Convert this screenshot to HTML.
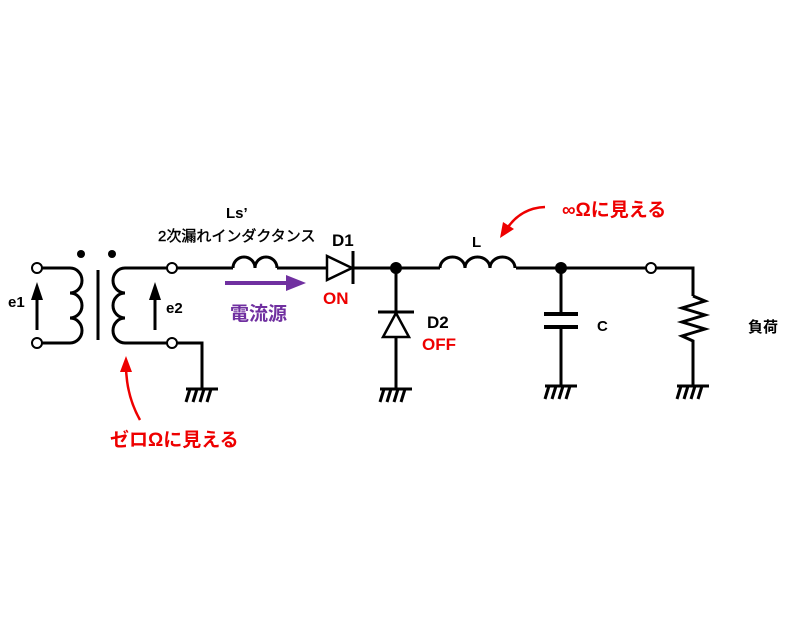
<!DOCTYPE html>
<html><head><style>body{margin:0;background:#fff}svg{display:block}</style></head><body>
<svg width="800" height="640" viewBox="0 0 800 640" xmlns="http://www.w3.org/2000/svg" font-family="Liberation Sans, Noto Sans CJK JP, sans-serif">
<g stroke="#000" stroke-width="3" fill="none">
<path d="M42,268 H70 A12,12.5 0 0 1 70,293 A12,12.5 0 0 1 70,318 A12,12.5 0 0 1 70,343 H42"/>
<line x1="98" y1="270" x2="98" y2="340"/>
<path d="M167,268 H125 A12,12.5 0 0 0 125,293 A12,12.5 0 0 0 125,318 A12,12.5 0 0 0 125,343 H167"/>
<path d="M177,343 H202 V388"/>
<path d="M177,268 H233 M277,268 H326 M354,268 H440 M516,268 H646 M656,268 H693 V296"/>
<path d="M233,268 A11,11 0 0 1 255,268 A11,11 0 0 1 277,268"/>
<path d="M440,268 A12.5,11 0 0 1 465,268 A12.5,11 0 0 1 490,268 A12.5,11 0 0 1 515,268"/>
<line x1="353" y1="251" x2="353" y2="284"/>
<line x1="396" y1="268" x2="396" y2="388"/>
<line x1="378" y1="312" x2="414" y2="312"/>
<line x1="561" y1="268" x2="561" y2="314"/>
<line x1="561" y1="327" x2="561" y2="385"/>
<line x1="544" y1="314" x2="578" y2="314" stroke-width="4"/>
<line x1="544" y1="327" x2="578" y2="327" stroke-width="4"/>
<path d="M693,296 L705,301 L682,308 L705,315 L682,322 L705,329 L682,336 L693,341 V385"/>
<line x1="37" y1="330" x2="37" y2="295"/>
<line x1="155" y1="330" x2="155" y2="295"/>
</g>
<g fill="#000">
<path d="M37,282 L31,300 L43,300 z"/>
<path d="M155,282 L149,300 L161,300 z"/>
<circle cx="81" cy="254" r="4"/><circle cx="112" cy="254" r="4"/>
<circle cx="396" cy="268" r="6"/><circle cx="561" cy="268" r="6"/>
</g>
<g fill="#fff" stroke="#000" stroke-width="2">
<circle cx="37" cy="268" r="5"/><circle cx="37" cy="343" r="5"/>
<circle cx="172" cy="268" r="5"/><circle cx="172" cy="343" r="5"/>
<circle cx="651" cy="268" r="5"/>
<path d="M327,256 L352,268 L327,280 z" stroke-width="2.5"/>
<path d="M396,313 L383,337 L409,337 z" stroke-width="2.5"/>
</g>
<g stroke="#000" stroke-width="3" fill="none">
<path d="M186,389 H218 M190,389 L186,402 M197,389 L193,402 M204,389 L200,402 M211,389 L207,402"/>
<path d="M380,389 H412 M384,389 L380,402 M391,389 L387,402 M398,389 L394,402 M405,389 L401,402"/>
<path d="M545,386 H577 M549,386 L545,399 M556,386 L552,399 M563,386 L559,399 M570,386 L566,399"/>
<path d="M677,386 H709 M681,386 L677,399 M688,386 L684,399 M695,386 L691,399 M702,386 L698,399"/>
</g>
<line x1="225" y1="283" x2="288" y2="283" stroke="#7030a0" stroke-width="4"/>
<path d="M306,283 L286,275 L286,291 z" fill="#7030a0"/>
<path d="M140,420 Q126,395 126,365" stroke="#e00" stroke-width="2.5" fill="none"/>
<path d="M126,356 L120,372 L132,372 z" fill="#e00"/>
<path d="M545,207 Q520,208 506,230" stroke="#e00" stroke-width="2.5" fill="none"/>
<path d="M500,238 L503,222 L514,229 z" fill="#e00"/>
<g font-size="15" fill="#000" font-weight="bold">
<text x="8" y="307">e1</text>
<text x="166" y="313">e2</text>
<text x="226" y="218">Ls’</text>
<text x="158" y="241" font-weight="normal" stroke="#000" stroke-width="0.4">2次漏れインダクタンス</text>
<text x="472" y="247">L</text>
<text x="597" y="331">C</text>
<text x="748" y="332">負荷</text>
</g>
<g font-size="17" font-weight="bold">
<text x="332" y="246" fill="#000">D1</text>
<text x="427" y="328" fill="#000">D2</text>
<text x="323" y="304" fill="#e00">ON</text>
<text x="422" y="350" fill="#e00">OFF</text>
<text x="230" y="320" fill="#7030a0" font-size="19">電流源</text>
<text x="562" y="216" fill="#e00" font-size="19">∞Ωに見える</text>
<text x="110" y="446" fill="#e00" font-size="19">ゼロΩに見える</text>
</g>
</svg>
</body></html>
